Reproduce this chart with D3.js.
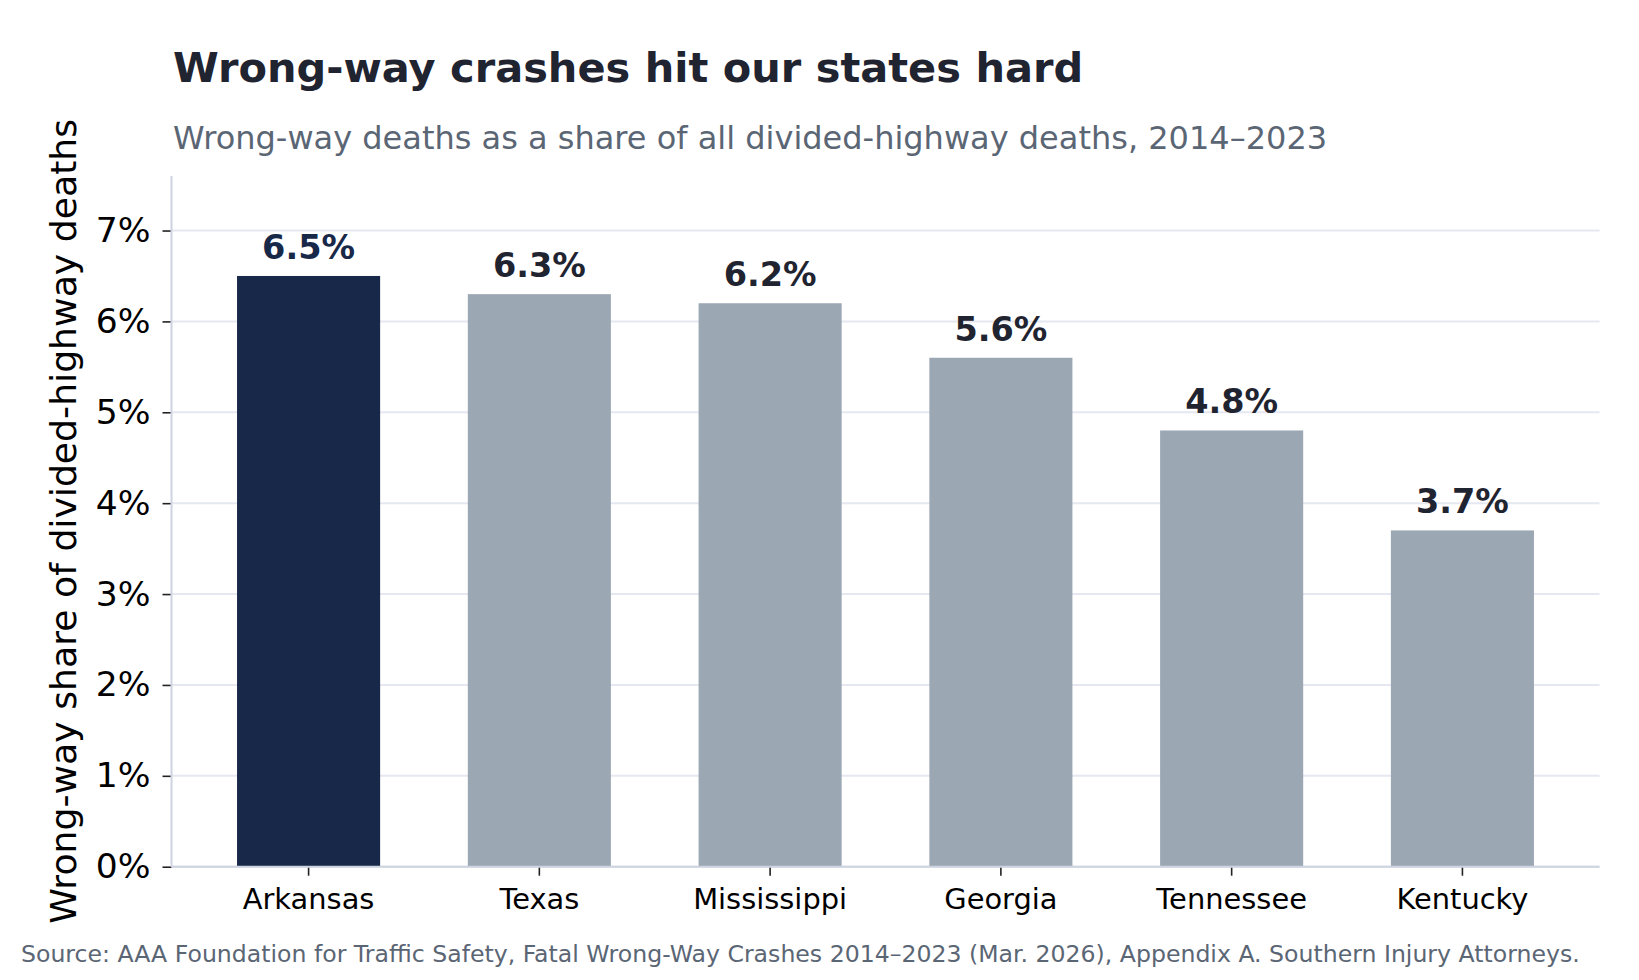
<!DOCTYPE html>
<html>
<head>
<meta charset="utf-8">
<script src="https://cdn.jsdelivr.net/npm/d3@7"></script>
<style>
  html, body { margin: 0; padding: 0; background: #ffffff; }
  svg { display: block; font-family: "DejaVu Sans", sans-serif; }
</style>
</head>
<body>
<svg id="chart" width="1639" height="980"></svg>
<script>
// ---- data ----
const states = ["Arkansas", "Texas", "Mississippi", "Georgia", "Tennessee", "Kentucky"];
const shares = [6.5, 6.3, 6.2, 5.6, 4.8, 3.7];
const highlighted = ["Arkansas"];
const yTicks = [0, 1, 2, 3, 4, 5, 6, 7];
const titleText = "Wrong-way crashes hit our states hard";
const subtitleText = "Wrong-way deaths as a share of all divided-highway deaths, 2014\u20132023";
const yAxisLabel = "Wrong-way share of divided-highway deaths";
const sourceText = "Source: AAA Foundation for Traffic Safety, Fatal Wrong-Way Crashes 2014\u20132023 (Mar. 2026), Appendix A. Southern Injury Attorneys.";

// ---- layout ----
const plot = { left: 171.5, right: 1599.5, top: 176, bottom: 866.7 };
const colors = {
  highlight: "#182848",
  bar: "#9ca7b4",
  title: "#1f2430",
  muted: "#5b6675",
  grid: "#e5e8f0",
  spine: "#cdd4df",
  tick: "#222222"
};

const svg = d3.select("#chart");

const x = d3.scaleBand()
  .domain(states)
  .range([plot.left, plot.right])
  .paddingInner(0.38)
  .paddingOuter(0.284);

const y = d3.scaleLinear()
  .domain([0, 7.6])
  .range([plot.bottom, plot.top]);

// gridlines
svg.append("g")
  .selectAll("line")
  .data(yTicks)
  .join("line")
  .attr("x1", plot.left)
  .attr("x2", plot.right)
  .attr("y1", d => y(d))
  .attr("y2", d => y(d))
  .attr("stroke", colors.grid)
  .attr("stroke-width", 2);

// bars
svg.append("g")
  .selectAll("rect")
  .data(states)
  .join("rect")
  .attr("x", d => x(d))
  .attr("width", x.bandwidth())
  .attr("y", (d, i) => y(shares[i]))
  .attr("height", (d, i) => y(0) - y(shares[i]))
  .attr("fill", d => highlighted.includes(d) ? colors.highlight : colors.bar);

// value labels
svg.append("g")
  .selectAll("text")
  .data(states)
  .join("text")
  .attr("x", d => x(d) + x.bandwidth() / 2)
  .attr("y", (d, i) => y(shares[i]) - 17)
  .attr("text-anchor", "middle")
  .attr("font-size", 33.5)
  .attr("font-weight", "bold")
  .attr("fill", d => highlighted.includes(d) ? colors.highlight : colors.title)
  .text((d, i) => shares[i].toFixed(1) + "%");

// y axis
const yAxis = svg.append("g")
  .attr("transform", `translate(${plot.left},0)`)
  .call(d3.axisLeft(y).tickValues(yTicks).tickFormat(d => d + "%").tickSize(9).tickPadding(12));
yAxis.select(".domain").remove();
yAxis.selectAll(".tick line").attr("stroke", colors.tick).attr("stroke-width", 1.6);
yAxis.selectAll(".tick text")
  .attr("font-family", "DejaVu Sans")
  .attr("font-size", 34.5)
  .attr("fill", "#000");

// x axis
const xAxis = svg.append("g")
  .attr("transform", `translate(0,${plot.bottom})`)
  .call(d3.axisBottom(x).tickSize(9).tickPadding(13));
xAxis.select(".domain").remove();
xAxis.selectAll(".tick line").attr("stroke", colors.tick).attr("stroke-width", 1.6);
xAxis.selectAll(".tick text")
  .attr("font-family", "DejaVu Sans")
  .attr("font-size", 28.9)
  .attr("fill", "#000");

// spines
svg.append("line")
  .attr("x1", plot.left).attr("x2", plot.left)
  .attr("y1", plot.top).attr("y2", plot.bottom)
  .attr("stroke", colors.spine).attr("stroke-width", 2);
svg.append("line")
  .attr("x1", plot.left).attr("x2", plot.right)
  .attr("y1", plot.bottom).attr("y2", plot.bottom)
  .attr("stroke", colors.spine).attr("stroke-width", 2);

// y axis label
svg.append("text")
  .attr("transform", `translate(76,${(plot.top + plot.bottom) / 2}) rotate(-90)`)
  .attr("text-anchor", "middle")
  .attr("font-size", 36.2)
  .attr("fill", "#000")
  .text(yAxisLabel);

// title & subtitle
svg.append("text")
  .attr("x", 173).attr("y", 82.3)
  .attr("font-size", 41.5)
  .attr("font-weight", "bold")
  .attr("fill", colors.title)
  .text(titleText);

svg.append("text")
  .attr("x", 173).attr("y", 149)
  .attr("font-size", 32)
  .attr("fill", colors.muted)
  .text(subtitleText);

// source
svg.append("text")
  .attr("x", 21).attr("y", 962.3)
  .attr("font-size", 23.6)
  .attr("fill", colors.muted)
  .text(sourceText);
</script>
</body>
</html>
